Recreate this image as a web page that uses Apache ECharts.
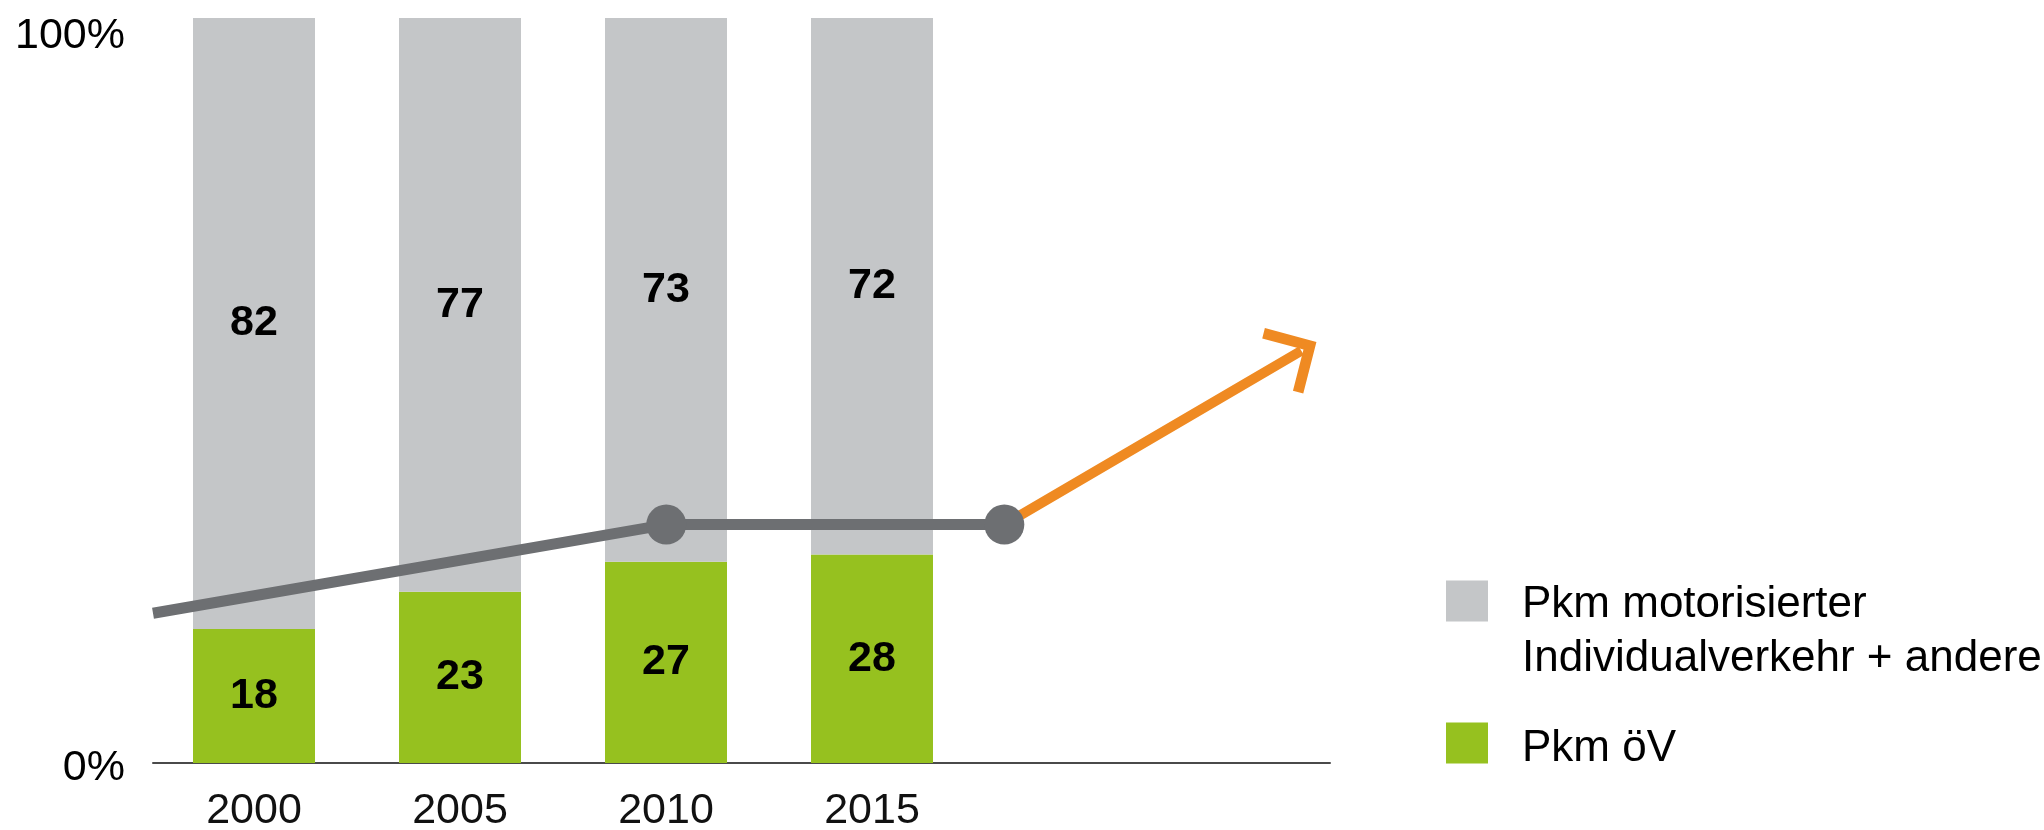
<!DOCTYPE html>
<html lang="de">
<head>
    <meta charset="utf-8">
    <title>Pkm Anteile öV</title>
    <script src="https://cdn.jsdelivr.net/npm/echarts@6/dist/echarts.min.js"></script>
    <style>
        html, body {
            margin: 0;
            padding: 0;
            background: #fff;
        }

        #chart {
            width: 2044px;
            height: 830px;
        }
    </style>
</head>
<body>
<div id="chart"></div>
<script>
    // Jahre und Anteile in %
    let years = ['2000', '2005', '2010', '2015'];
    let oevShare = [18, 23, 27, 28];      // Pkm öV
    let mivShare = [82, 77, 73, 72];      // Pkm MIV + andere
    let yTicks = [0, 100];
    // graue Trendlinie und oranger Zielpfeil, je [Jahr, %]
    let trendLine = [[1997.55, 20.1], [2010, 32], [2018.2, 32]];
    let targetArrow = [[2018.2, 32], [2025.3, 55]];

    let names = ['Pkm motorisierter\nIndividualverkehr + andere', 'Pkm öV'];
    let font = '"Liberation Sans", Arial, Helvetica, sans-serif';

    let chart = echarts.init(document.getElementById('chart'));

    let barLabel = {
        show: true,
        position: 'inside',
        color: '#000',
        fontSize: 43,
        fontWeight: 'bold',
        fontFamily: font
    };

    // Legendentext: erste Zeile auf Hoehe des Kaestchens, dafuer Leerzeile davor
    function legendText(name) {
        return '{s| }\n{a|' + name.split('\n').join('}\n{a|') + '}';
    }

    function legendRich(spacer) {
        return {
            s: {fontSize: 10, lineHeight: spacer},
            a: {fontSize: 44, lineHeight: 54, color: '#000', padding: [0, 0, 0, 29]}
        };
    }

    let option = {
        animation: false,
        textStyle: {fontFamily: font},
        // grid 0: Balken (4 Kategorien), grid 1: ganze Achse fuer Linie + Pfeil
        grid: [
            {left: 151, right: 1069, top: 18, bottom: 67, outerBoundsMode: 'none'},
            {left: 153, right: 714, top: 18, bottom: 67, outerBoundsMode: 'none'}
        ],
        legend: [
            {
                data: [{name: names[0], icon: 'rect'}],
                left: 1446,
                top: 542,
                padding: 0,
                itemWidth: 42,
                itemHeight: 41,
                selectedMode: false,
                formatter: legendText,
                textStyle: {rich: legendRich(62)}
            },
            {
                data: [{name: names[1], icon: 'rect'}],
                left: 1446,
                top: 711,
                padding: 0,
                itemWidth: 42,
                itemHeight: 41,
                selectedMode: false,
                formatter: legendText,
                textStyle: {rich: legendRich(11)}
            }
        ],
        xAxis: [
            {
                type: 'category',
                gridIndex: 0,
                data: years,
                axisTick: {show: false},
                axisLine: {show: false},
                axisLabel: {fontSize: 43, color: '#111', margin: 27}
            },
            {
                type: 'value',
                gridIndex: 1,
                min: 1997.55,
                max: 2026.1,
                splitLine: {show: false},
                axisTick: {show: false},
                axisLabel: {show: false},
                axisLine: {show: true, lineStyle: {color: '#4a4a4a', width: 2}}
            }
        ],
        yAxis: [
            {
                type: 'value',
                gridIndex: 0,
                min: yTicks[0],
                max: yTicks[1],
                interval: 100,
                splitLine: {show: false},
                axisTick: {show: false},
                axisLine: {show: false},
                axisLabel: {
                    margin: 26,
                    formatter: function (v) {
                        return v === 100 ? '{top|' + v + '%}' : '{bot|' + v + '%}';
                    },
                    rich: {
                        top: {fontSize: 43, color: '#000', padding: [36, 0, 0, 0]},
                        bot: {fontSize: 43, color: '#000', padding: [10, 0, 0, 0]}
                    }
                }
            },
            {
                type: 'value',
                gridIndex: 1,
                min: yTicks[0],
                max: yTicks[1],
                show: false
            }
        ],
        series: [
            {
                name: names[1],
                type: 'bar',
                stack: 'anteil',
                barWidth: 122,
                data: oevShare,
                itemStyle: {color: '#96c11f'},
                label: barLabel
            },
            {
                name: names[0],
                type: 'bar',
                stack: 'anteil',
                barWidth: 122,
                data: mivShare,
                itemStyle: {color: '#c4c6c8'},
                label: barLabel
            },
            {
                name: 'Trend',
                type: 'line',
                xAxisIndex: 1,
                yAxisIndex: 1,
                z: 5,
                data: trendLine.map((p, i) => i === 0 ? {value: p, symbol: 'none'} : p),
                symbol: 'circle',
                symbolSize: 40,
                lineStyle: {color: '#6d6f72', width: 11},
                itemStyle: {color: '#6d6f72'},
                markLine: {
                    silent: true,
                    symbol: ['none', 'path://M50,0 L100,50 L90,60 L50,20 L10,60 L0,50 Z'],
                    label: {show: false},
                    lineStyle: {color: '#ef8a22', width: 10, type: 'solid', cap: 'square'},
                    itemStyle: {color: '#ef8a22'},
                    data: [[
                        {coord: targetArrow[0]},
                        {coord: targetArrow[1], symbolSize: [76, 45]}
                    ]]
                }
            }
        ]
    };

    chart.setOption(option);
</script>
</body>
</html>
